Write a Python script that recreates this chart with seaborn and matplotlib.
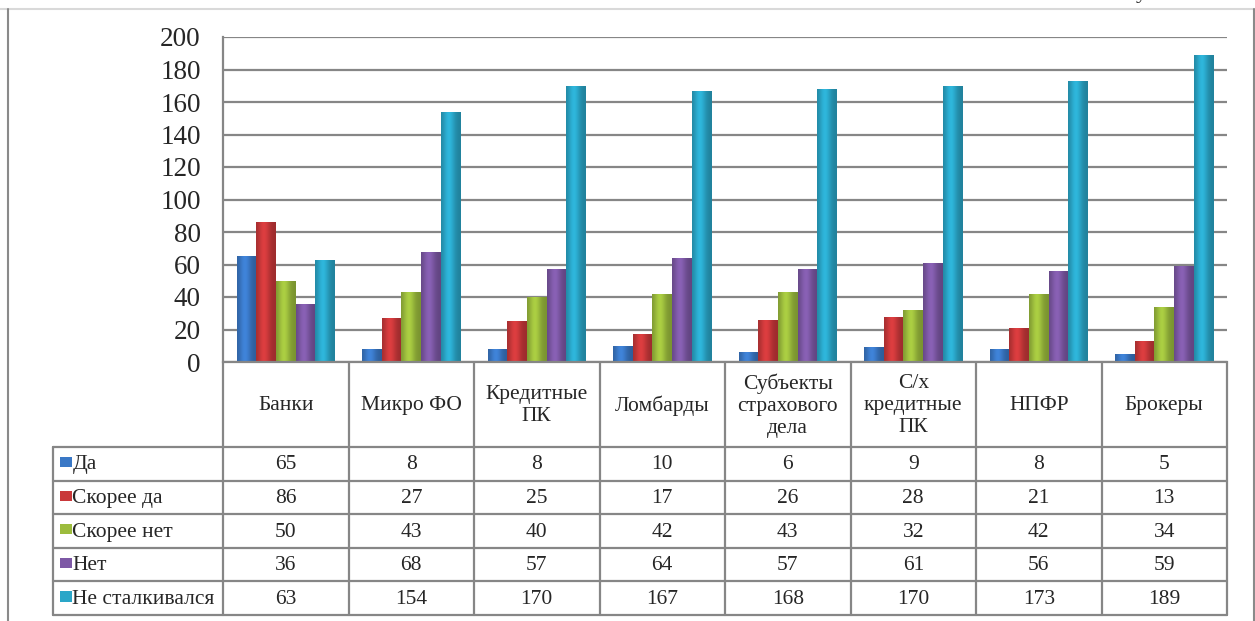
import numpy as np
import pandas as pd
import matplotlib
matplotlib.use("Agg")
import matplotlib.pyplot as plt
import matplotlib.font_manager as fm
import seaborn as sns
from matplotlib.lines import Line2D
from matplotlib.patches import Rectangle

categories = ["Банки", "Микро ФО", "Кредитные\nПК", "Ломбарды",
              "Субъекты\nстрахового\nдела", "С/х\nкредитные\nПК", "НПФР", "Брокеры"]
series_names = ["Да", "Скорее да", "Скорее нет", "Нет", "Не сталкивался"]
da = [65, 8, 8, 10, 6, 9, 8, 5]
skoree_da = [86, 27, 25, 17, 26, 28, 21, 13]
skoree_net = [50, 43, 40, 42, 43, 32, 42, 34]
net = [36, 68, 57, 64, 57, 61, 56, 59]
ne_stalkivalsya = [63, 154, 170, 167, 168, 170, 173, 189]
yticks = [0, 20, 40, 60, 80, 100, 120, 140, 160, 180, 200]

series_values = [da, skoree_da, skoree_net, net, ne_stalkivalsya]
colors = ["#3a78c6", "#c9383a", "#9cbc3d", "#7d58a5", "#2aa6c8"]

rows = []
for name, vals in zip(series_names, series_values):
    for c, v in zip(categories, vals):
        rows.append({"cat": c, "series": name, "value": v})
df = pd.DataFrame(rows)

sns.set_theme(style="white")
installed = {f.name for f in fm.fontManager.ttflist}
serif_choice = "DejaVu Serif"
for cand in ["Liberation Serif", "Times New Roman", "Tinos", "DejaVu Serif"]:
    if cand in installed:
        serif_choice = cand
        break
plt.rcParams["font.family"] = [serif_choice, "DejaVu Serif", "DejaVu Sans"]

W, H = 1255, 621
fig = plt.figure(figsize=(W / 100, H / 100), dpi=100)
fig.patch.set_facecolor("white")

grid_c = "#868686"
L, R = 223, 1227
top_px, zero_px = 37, 362
ax = fig.add_axes([L / W, 1 - zero_px / H, (R - L) / W, (zero_px - top_px) / H])
sns.barplot(data=df, x="cat", y="value", hue="series", hue_order=series_names,
            palette=colors, order=categories, width=0.78, ax=ax, legend=False,
            saturation=1, edgecolor="none", linewidth=0)
ax.set_xlim(-0.5, len(categories) - 0.5)
ax.set_ylim(0, 200)
ax.set_yticks(yticks)
ax.set_yticklabels([str(t) for t in yticks], fontsize=19.5)
ax.set_xticks([])
ax.set_xlabel("")
ax.set_ylabel("")
ax.tick_params(axis="y", length=0, pad=16)
ax.yaxis.grid(True, color=grid_c, linewidth=1.6)
ax.set_axisbelow(True)
for s in ["top", "right"]:
    ax.spines[s].set_visible(False)
for s in ["left", "bottom"]:
    ax.spines[s].set_color(grid_c)
    ax.spines[s].set_linewidth(1.6)

# soft cylindrical shading on the bars
grad = np.linspace(0, 1, 64)
shade = 0.78 + 0.32 * np.exp(-((grad - 0.4) / 0.3) ** 2)
for p in list(ax.patches):
    x0, w, h = p.get_x(), p.get_width(), p.get_height()
    if h <= 0:
        continue
    rgb = np.array(matplotlib.colors.to_rgb(p.get_facecolor()))
    img = np.clip(rgb[None, :] * shade[:, None], 0, 1)
    im = ax.imshow(img[None, :, :], extent=[x0, x0 + w, 0, h], aspect="auto",
                   zorder=p.get_zorder() + 0.1, interpolation="bilinear")
    im.set_clip_path(p)
ax.set_xlim(-0.5, len(categories) - 0.5)
ax.set_ylim(0, 200)

# data table under the chart
col_w = (R - L) / len(categories)
leg_L = 53
row_h = 33.6
head_h = 84
tb_top, tb_bot = 363, 363 + head_h + 5 * row_h
tax = fig.add_axes([leg_L / W, 1 - tb_bot / H, (R - leg_L) / W, (tb_bot - tb_top) / H])
x_left = -0.5 - (L - leg_L) / col_w
tax.set_xlim(x_left, len(categories) - 0.5)
hrows = head_h / row_h
tax.set_ylim(hrows + 5, 0)
tax.axis("off")
lw = 1.6
for i in range(len(categories) + 1):
    xv = -0.5 + i
    tax.add_line(Line2D([xv, xv], [0, hrows + 5], color=grid_c, lw=lw, clip_on=False))
tax.add_line(Line2D([x_left, x_left], [hrows, hrows + 5], color=grid_c, lw=lw, clip_on=False))
for j in range(6):
    yv = hrows + j
    tax.add_line(Line2D([x_left, len(categories) - 0.5], [yv, yv], color=grid_c, lw=lw, clip_on=False))

fs = 15.5
for i, c in enumerate(categories):
    tax.text(i, hrows / 2 + 0.02, c, ha="center", va="center", fontsize=fs,
             linespacing=1.22)
for j, (name, vals) in enumerate(zip(series_names, series_values)):
    yc = hrows + j + 0.5
    for i, v in enumerate(vals):
        tax.text(i, yc + 0.03, str(v), ha="center", va="center", fontsize=fs)
    tax.add_patch(Rectangle((x_left + 0.056, yc - 0.2), 0.092, 0.3,
                            facecolor=colors[j], edgecolor="none", clip_on=False))
    tax.text(x_left + 0.155, yc + 0.03, name, ha="left", va="center", fontsize=fs)

# outer frame of the page fragment
fig.add_artist(Line2D([0, 1], [1 - 8.5 / H, 1 - 8.5 / H], color="#d9d9d9", lw=1.5,
                      transform=fig.transFigure))
fig.add_artist(Line2D([7.5 / W, 7.5 / W], [0, 1 - 8.5 / H], color="#8a8a8a", lw=1.5,
                      transform=fig.transFigure))
fig.add_artist(Line2D([1253.5 / W, 1253.5 / W], [0, 1 - 8.5 / H], color="#8a8a8a", lw=1.5,
                      transform=fig.transFigure))
fig.text(1136 / W, 1 + 2 / H, "у", fontsize=16, ha="left", va="baseline")

fig.savefig("out.png", dpi=100, facecolor="white")
